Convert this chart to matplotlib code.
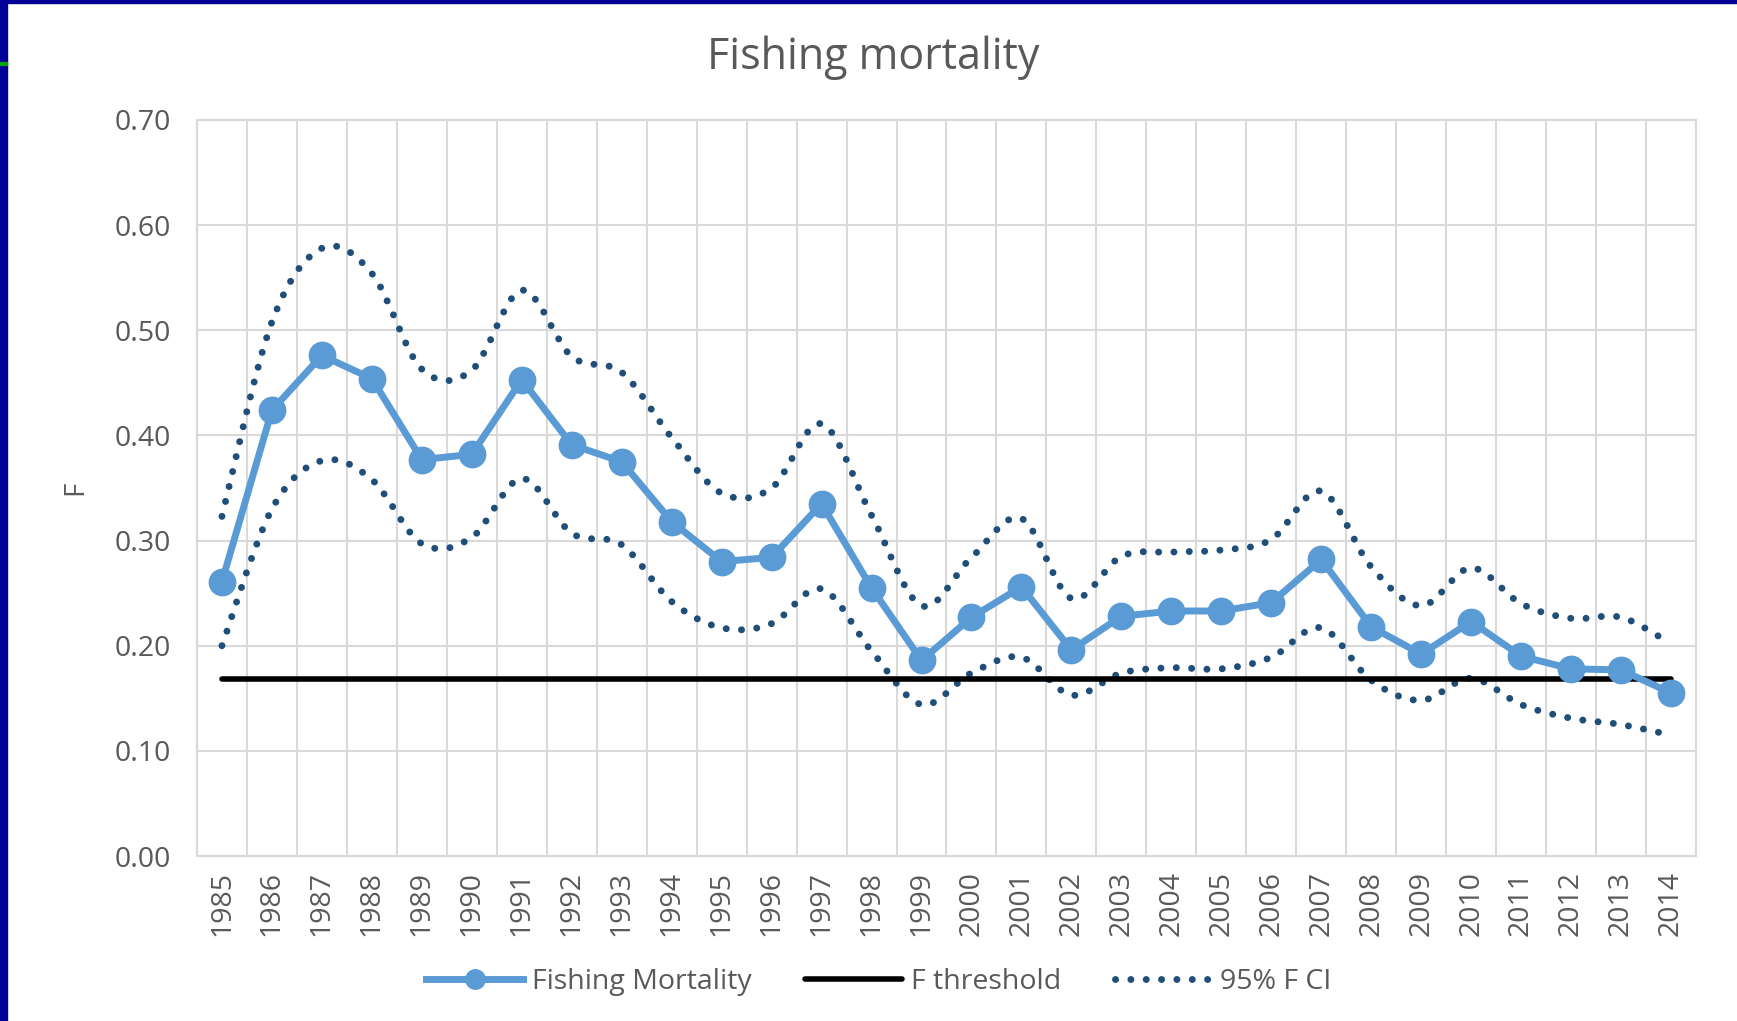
import matplotlib
matplotlib.use("Agg")
from matplotlib import pyplot as plt
from matplotlib.path import Path
from matplotlib.patches import PathPatch, Rectangle
from matplotlib.lines import Line2D

plt.rcParams['font.family'] = ['Open Sans', 'DejaVu Sans']

years = list(range(1985, 2015))
fishing_mortality = [0.261, 0.424, 0.476, 0.454, 0.377, 0.382, 0.453, 0.391, 0.375, 0.318,
                     0.280, 0.284, 0.335, 0.255, 0.186, 0.227, 0.256, 0.196, 0.228, 0.233,
                     0.233, 0.241, 0.282, 0.218, 0.192, 0.223, 0.190, 0.178, 0.177, 0.155]
ci_upper = [0.323, 0.508, 0.578, 0.554, 0.463, 0.462, 0.538, 0.475, 0.460, 0.398,
            0.345, 0.350, 0.411, 0.324, 0.238, 0.284, 0.321, 0.245, 0.285, 0.289,
            0.291, 0.301, 0.347, 0.275, 0.238, 0.274, 0.240, 0.226, 0.227, 0.202]
ci_lower = [0.200, 0.330, 0.376, 0.358, 0.297, 0.303, 0.359, 0.307, 0.296, 0.242,
            0.217, 0.221, 0.254, 0.195, 0.144, 0.174, 0.189, 0.153, 0.174, 0.179,
            0.178, 0.189, 0.217, 0.167, 0.148, 0.169, 0.144, 0.131, 0.125, 0.115]
f_threshold = 0.168

grey = '#595959'
main_blue = '#5B9BD5'
ci_blue = '#1F4E79'


def smooth_path(xs, ys):
    # Excel style smoothing: cubic bezier through every point
    verts = [(xs[0], ys[0])]
    codes = [Path.MOVETO]
    n = len(xs)
    for i in range(n - 1):
        x0, y0 = (xs[i - 1], ys[i - 1]) if i > 0 else (xs[i], ys[i])
        x1, y1 = xs[i], ys[i]
        x2, y2 = xs[i + 1], ys[i + 1]
        x3, y3 = (xs[i + 2], ys[i + 2]) if i + 2 < n else (x2, y2)
        c1 = (x1 + (x2 - x0) / 6, y1 + (y2 - y0) / 6)
        c2 = (x2 - (x3 - x1) / 6, y2 - (y3 - y1) / 6)
        verts += [c1, c2, (x2, y2)]
        codes += [Path.CURVE4] * 3
    return Path(verts, codes)


fig = plt.figure(figsize=(17.37, 10.21), dpi=100)
ax = fig.add_axes([0.1134, 0.1616, 0.8630, 0.7209])

# frame decoration of the slide
fig.patches.append(Rectangle((0, 0.997), 1, 0.003, transform=fig.transFigure,
                             color='#000096', zorder=10))
fig.patches.append(Rectangle((0, 0), 0.004, 1, transform=fig.transFigure,
                             color='#000096', zorder=10))
fig.patches.append(Rectangle((0, 0.936), 0.004, 0.003, transform=fig.transFigure,
                             color='#00A000', zorder=11))

x = list(range(len(years)))
dotted = (0, (0.01, 2.2))
for ci in (ci_upper, ci_lower):
    ax.add_patch(PathPatch(smooth_path(x, ci), fill=False, edgecolor=ci_blue,
                           linewidth=5, linestyle=dotted, capstyle='round', zorder=3))

ax.plot([x[0], x[-1]], [f_threshold, f_threshold], color='black', linewidth=4,
        solid_capstyle='round', zorder=4)
ax.plot(x, fishing_mortality, color=main_blue, linewidth=5, marker='o',
        markersize=19, zorder=5)

ax.set_xlim(-0.5, len(years) - 0.5)
ax.set_ylim(0, 0.7)
ax.set_yticks([i / 10 for i in range(8)])
ax.set_yticklabels(['%.2f' % (i / 10) for i in range(8)])
ax.set_xticks(x)
ax.set_xticklabels([str(y) for y in years], rotation=90)
ax.set_xticks([i - 0.5 for i in range(len(years) + 1)], minor=True)
ax.grid(False)
ax.grid(True, which='minor', axis='x', color='#D9D9D9', linewidth=1.5)
ax.grid(True, which='major', axis='y', color='#D9D9D9', linewidth=1.5)
ax.tick_params(which='both', length=0, labelsize=20.5, labelcolor=grey)
ax.tick_params(axis='x', pad=11)
ax.tick_params(axis='y', pad=19)
for s in ax.spines.values():
    s.set_color('#D9D9D9')
    s.set_linewidth(1.5)
ax.set_axisbelow(True)

ax.set_ylabel('F', fontsize=20, color=grey, labelpad=18)
fig.text(0.5025, 0.943, 'Fishing mortality', fontsize=31, color=grey,
         ha='center', va='center')

handles = [Line2D([], [], color=main_blue, linewidth=5, marker='o', markersize=14),
           Line2D([], [], color='black', linewidth=4, solid_capstyle='round'),
           Line2D([], [], color=ci_blue, linewidth=5, linestyle=dotted,
                  dash_capstyle='round')]
labels = ['Fishing Mortality', 'F threshold', '95% F CI']
fig.legend(handles, labels, loc='center', bbox_to_anchor=(0.506, 0.038), ncol=3,
           frameon=False, handlelength=3.4, handletextpad=0.3, columnspacing=1.9,
           prop={'size': 20.5}, labelcolor=grey)

fig.savefig('out.png', dpi=100)
